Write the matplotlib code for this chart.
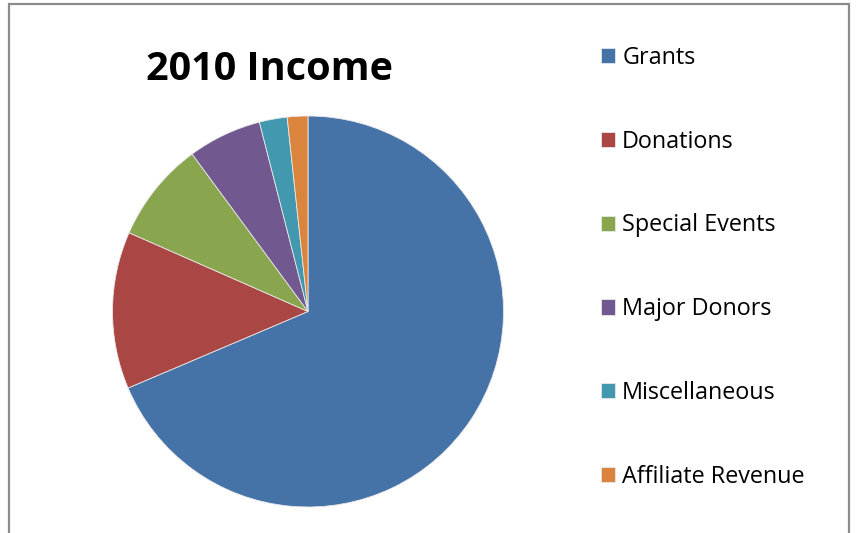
import matplotlib.pyplot as plt
from matplotlib.patches import Rectangle

categories = ['Grants', 'Donations', 'Special Events', 'Major Donors',
              'Miscellaneous', 'Affiliate Revenue']
values = [68.6, 13.0, 8.3, 6.1, 2.3, 1.7]
colors = ['#4572A7', '#AA4643', '#89A54E', '#71588F', '#4198AF', '#DB843D']

W, H = 858, 533
fig = plt.figure(figsize=(W / 100, H / 100), dpi=100)

# chart border (bottom edge is cut off in the original)
fig.patches.append(Rectangle((9 / W, -0.05), (849 - 9) / W, 1.05 - 4 / H,
                             transform=fig.transFigure, fill=False,
                             edgecolor='#8c8c8c', linewidth=1.6))

# pie axes: centre (308, 311.5) px, radius 195.5 px
cx, cy, r = 308, 311.5, 195.5
ax = fig.add_axes([(cx - r) / W, (H - cy - r) / H, 2 * r / W, 2 * r / H])
wedges, _ = ax.pie(values, colors=colors, startangle=90, counterclock=False,
                   wedgeprops=dict(edgecolor='#e8e8e8', linewidth=0.6))
ax.set_xlim(-1, 1)
ax.set_ylim(-1, 1)
ax.set_aspect('equal')
ax.axis('off')

fig.text(270 / W, 1 - 69 / H, '2010 Income', fontfamily='Open Sans',
         fontweight='bold', fontsize=28.5, ha='center', va='center')

leg = fig.legend(wedges, categories, loc='upper left',
                 bbox_to_anchor=(589 / W, 1 - 34 / H),
                 frameon=False, prop={'family': 'Open Sans', 'size': 16.8},
                 handlelength=0.62, handleheight=0.62, handletextpad=0.3,
                 labelspacing=2.565, borderpad=0)

fig.savefig('out.png', dpi=100)
